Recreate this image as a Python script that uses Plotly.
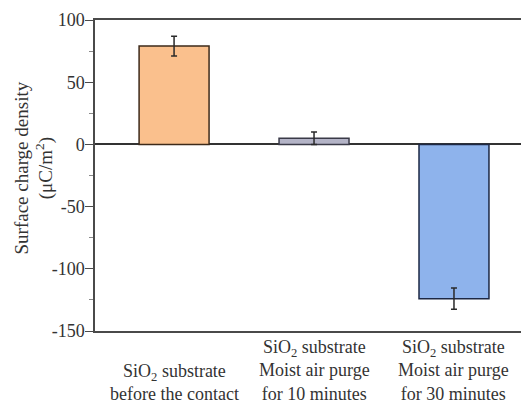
import plotly.graph_objects as go

categories = [
    "SiO<sub>2</sub> substrate<br>before the contact",
    "SiO<sub>2</sub> substrate<br>Moist air purge<br>for 10 minutes",
    "SiO<sub>2</sub> substrate<br>Moist air purge<br>for 30 minutes",
]
values = [79, 5, -124]
errors = [8, 5, 8.5]
fill_colors = ["#FAC08D", "#B3B3C6", "#8EB3EC"]
line_colors = ["#3d2a1a", "#3a3a48", "#1d2844"]
y_ticks = [-150, -100, -50, 0, 50, 100]
y_tick_labels = [str(v) for v in y_ticks]

positions = list(range(len(categories)))
font_family = "Liberation Serif, Times New Roman, serif"
text_color = "#333333"

fig = go.Figure()
fig.add_trace(go.Bar(
    x=positions,
    y=values,
    width=0.5,
    marker=dict(color=fill_colors, line=dict(color=line_colors, width=1.5)),
    error_y=dict(type="data", array=errors, visible=True, color="#2a2a2a", thickness=1.5, width=3),
    showlegend=False,
))

for pos, label in zip(positions, categories):
    fig.add_annotation(
        x=pos, xref="x", y=0, yref="paper", yshift=-75,
        text=label, showarrow=False, xanchor="center", yanchor="bottom",
        font=dict(family=font_family, size=18, color=text_color), align="center",
    )

fig.add_annotation(
    x=0, xref="paper", y=0.5, yref="paper", xshift=-61, yshift=7,
    text="Surface charge density<br>(μC/m<sup>2</sup>)", textangle=-90,
    showarrow=False, xanchor="center", yanchor="middle",
    font=dict(family=font_family, size=19, color=text_color), align="center",
)

# page body adds an 8px offset; compensate so plot area lands at x 95..529, y 20..331
fig.update_layout(
    width=521, height=406,
    margin=dict(l=87, r=0, t=12, b=83),
    paper_bgcolor="white", plot_bgcolor="white",
    font=dict(family=font_family, size=18, color=text_color),
    bargap=0.5,
)
fig.update_xaxes(
    range=[-0.565, 2.536], showticklabels=False, ticks="",
    showline=True, mirror=True, linecolor="#4a4a4a", linewidth=2,
    showgrid=False, zeroline=False,
)
fig.update_yaxes(
    range=[-150, 100], tickvals=y_ticks, ticktext=y_tick_labels,
    ticks="outside", ticklen=8, tickcolor="#4a4a4a", tickwidth=1,
    ticklabelstandoff=-3,
    minor=dict(dtick=25, ticks="outside", ticklen=4, tickcolor="#888"),
    showline=True, linecolor="#4a4a4a", linewidth=1.5,
    showgrid=False, zeroline=True, zerolinecolor="#333", zerolinewidth=1.5,
    tickfont=dict(family=font_family, size=18, color=text_color),
)

fig.write_html("out.html")
